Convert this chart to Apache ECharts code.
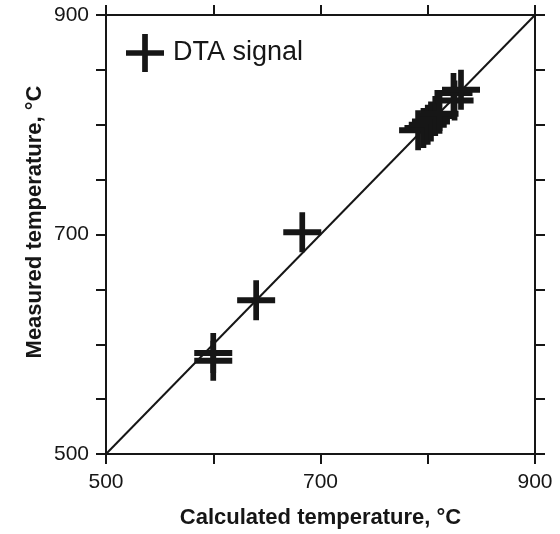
<!DOCTYPE html>
<html>
<head>
<meta charset="utf-8">
<script src="https://cdn.jsdelivr.net/npm/echarts@6/dist/echarts.min.js"></script>
<style>
  html, body { margin: 0; padding: 0; background: #fff; }
  #chart { width: 560px; height: 534px; }
</style>
</head>
<body>
<div id="chart"></div>
<script>
// Calculated vs. measured (DTA) transition temperatures, °C
const calcTemp = [600, 600, 640, 683, 791, 796, 800, 803, 807, 811, 825, 824, 831];
const measTemp = [592, 585, 640, 702, 795, 797, 800, 803, 808, 810, 822, 829, 832];

// 1:1 reference line
const parityLine = [[500, 500], [900, 900]];

// Tick labels that are printed on both axes
const xTickLabels = [500, 700, 900];
const yTickLabels = [500, 700, 900];

const ink = '#161616';
const font = 'Liberation Sans, Arial, Helvetica, sans-serif';
const plusIcon = 'path://M17,0h6v17h17v6h-17v17h-6v-17h-17v-6h17z';

const axisCommon = {
  type: 'value',
  min: 500,
  max: 900,
  splitLine: { show: false },
  axisLine: { show: true, onZero: false, lineStyle: { color: ink, width: 2 } },
  axisTick: { show: true, inside: false, length: 10, lineStyle: { color: ink, width: 2 } }
};

const chart = echarts.init(document.getElementById('chart'), null, { renderer: 'canvas' });
chart.setOption({
  animation: false,
  backgroundColor: '#fff',
  grid: { left: 106, right: 25, top: 15, bottom: 79, containLabel: false },
  legend: {
    left: 121,
    top: 29,
    itemWidth: 38,
    itemHeight: 40,
    icon: plusIcon,
    data: ['DTA signal'],
    textStyle: { fontFamily: font, fontSize: 27, color: ink, padding: [0, 0, 0, 4] }
  },
  // vertical title of the measured-temperature axis
  graphic: [{
    type: 'text',
    x: 35,
    y: 222,
    rotation: Math.PI / 2,
    style: {
      text: 'Measured temperature, °C',
      fontFamily: font,
      fontSize: 22,
      fontWeight: 'bold',
      fill: ink,
      align: 'center',
      verticalAlign: 'middle'
    }
  }],
  xAxis: [
    Object.assign({}, axisCommon, {
      position: 'bottom',
      interval: 100,
      name: 'Calculated temperature, °C',
      nameLocation: 'middle',
      nameGap: 53,
      nameTextStyle: { fontFamily: font, fontSize: 22, fontWeight: 'bold', color: ink },
      axisLabel: {
        fontFamily: font, fontSize: 21, color: ink, margin: 18,
        formatter: v => xTickLabels.includes(v) ? String(v) : ''
      }
    }),
    Object.assign({}, axisCommon, {
      position: 'top',
      interval: 100,
      axisLabel: { show: false }
    })
  ],
  yAxis: [
    Object.assign({}, axisCommon, {
      position: 'left',
      interval: 50,
      axisLabel: {
        fontFamily: font, fontSize: 21, color: ink, margin: 17,
        formatter: v => yTickLabels.includes(v) ? String(v) : ''
      }
    }),
    Object.assign({}, axisCommon, {
      position: 'right',
      interval: 50,
      axisLabel: { show: false }
    })
  ],
  series: [
    {
      type: 'line',
      xAxisIndex: 0,
      yAxisIndex: 0,
      data: parityLine,
      symbol: 'none',
      silent: true,
      lineStyle: { color: ink, width: 2 },
      z: 1
    },
    {
      name: 'DTA signal',
      type: 'scatter',
      xAxisIndex: 0,
      yAxisIndex: 0,
      data: calcTemp.map((x, i) => [x, measTemp[i]]),
      symbol: plusIcon,
      symbolSize: [38, 40],
      itemStyle: { color: ink, opacity: 1 },
      z: 3
    }
  ]
});
</script>
</body>
</html>
